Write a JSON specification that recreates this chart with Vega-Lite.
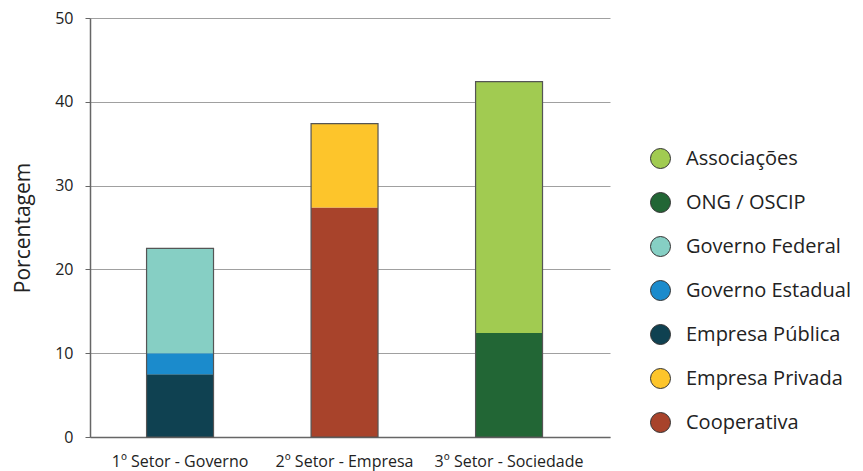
{
  "$schema": "https://vega.github.io/schema/vega-lite/v6.json",
  "width": 520,
  "height": 419,
  "padding": {"left": 90, "top": 18, "right": 253, "bottom": 34},
  "autosize": {"type": "none"},
  "background": "white",
  "config": {
    "view": {"stroke": null},
    "font": "Open Sans"
  },
  "data": {
    "values": [
      {"setor": "1º Setor - Governo", "tipo": "Empresa Pública", "pct": 7.5, "ordem": 1},
      {"setor": "1º Setor - Governo", "tipo": "Governo Estadual", "pct": 2.5, "ordem": 2},
      {"setor": "1º Setor - Governo", "tipo": "Governo Federal", "pct": 12.5, "ordem": 3},
      {"setor": "2º Setor - Empresa", "tipo": "Cooperativa", "pct": 27.4, "ordem": 1},
      {"setor": "2º Setor - Empresa", "tipo": "Empresa Privada", "pct": 10.0, "ordem": 2},
      {"setor": "3º Setor - Sociedade", "tipo": "ONG / OSCIP", "pct": 12.4, "ordem": 1},
      {"setor": "3º Setor - Sociedade", "tipo": "Associações", "pct": 30.0, "ordem": 2}
    ]
  },
  "encoding": {
    "x": {
      "field": "setor",
      "type": "nominal",
      "sort": null,
      "scale": {"paddingInner": 0.593, "paddingOuter": 0.377, "align": 0.456},
      "axis": {
        "title": null,
        "labelAngle": 0,
        "labelFont": "Open Sans",
        "labelFontSize": 16,
        "labelColor": "#222222",
        "labelPadding": 16,
        "ticks": false,
        "domainColor": "#666666",
        "domainWidth": 1.5
      }
    }
  },
  "layer": [
    {
      "mark": {"type": "bar"},
      "encoding": {
        "y": {
          "field": "pct",
          "type": "quantitative",
          "aggregate": "sum",
          "stack": "zero",
          "scale": {"domain": [0, 50]},
          "axis": {
            "title": "Porcentagem",
            "titleFont": "Open Sans",
            "titleFontSize": 21,
            "titleFontWeight": "normal",
            "titleColor": "#222222",
            "titlePadding": 21,
            "values": [0, 10, 20, 30, 40, 50],
            "labelFont": "Open Sans",
            "labelFontSize": 16,
            "labelColor": "#222222",
            "labelPadding": 12,
            "tickSize": 5,
            "tickColor": "#666666",
            "domainColor": "#666666",
            "domainWidth": 1.5,
            "grid": true,
            "gridColor": "#a0a0a0",
            "gridWidth": 1
          }
        },
        "order": {"field": "ordem", "type": "quantitative"},
        "color": {
          "field": "tipo",
          "type": "nominal",
          "scale": {
            "domain": ["Associações", "ONG / OSCIP", "Governo Federal", "Governo Estadual", "Empresa Pública", "Empresa Privada", "Cooperativa"],
            "range": ["#a1cb51", "#226635", "#86cfc4", "#1b8bcc", "#0f4151", "#fdc52b", "#a8432b"]
          },
          "legend": {
            "title": null,
            "orient": "none",
            "legendX": 560,
            "legendY": 130,
            "padding": 0,
            "symbolType": "circle",
            "symbolSize": 400,
            "symbolStrokeColor": "#333333",
            "symbolStrokeWidth": 1,
            "symbolOpacity": 1,
            "labelFont": "Open Sans",
            "labelFontSize": 20,
            "labelColor": "#222222",
            "labelOffset": 15,
            "rowPadding": 19,
            "labelLimit": 300
          }
        }
      }
    },
    {
      "mark": {"type": "bar", "fill": null, "fillOpacity": 0, "stroke": "#555555", "strokeWidth": 1.2},
      "encoding": {
        "y": {"field": "pct", "type": "quantitative", "aggregate": "sum"}
      }
    }
  ]
}
